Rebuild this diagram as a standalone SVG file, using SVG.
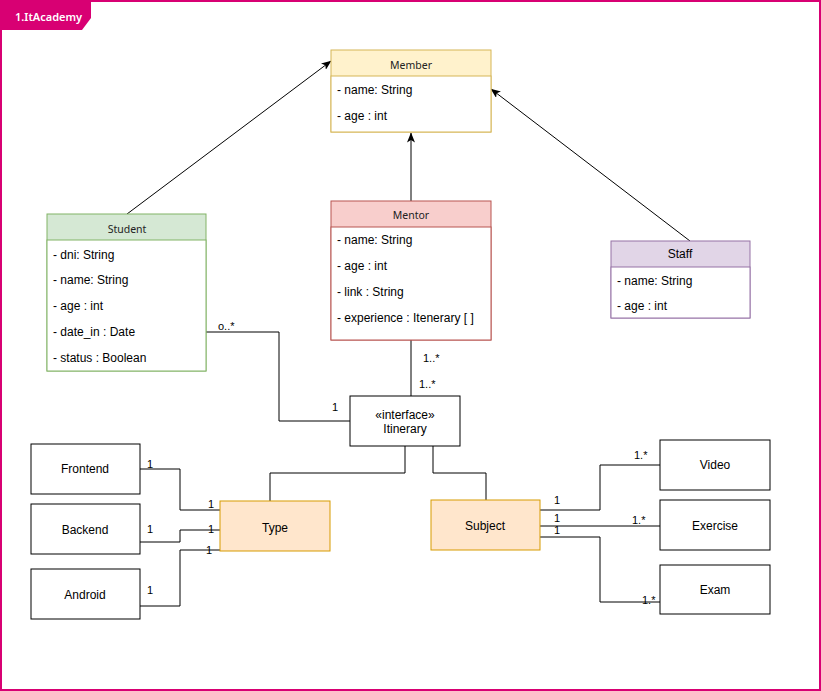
<svg xmlns="http://www.w3.org/2000/svg" width="821" height="691" viewBox="0 0 821 691">
<defs>
<marker id="arr" markerWidth="10" markerHeight="8" refX="9.5" refY="4" orient="auto" markerUnits="userSpaceOnUse">
<path d="M0,0 L10,4 L0,8 L2.5,4 Z" fill="#000"/>
</marker>
</defs>
<style>
.attr{font-family:"Liberation Sans",Arial,sans-serif;font-size:12px;fill:#000}
.hdr{font-family:"Noto Sans","DejaVu Sans",sans-serif;font-size:10.5px;fill:#222;text-anchor:middle}
.lbl{font-family:"Liberation Sans",Arial,sans-serif;font-size:12px;fill:#000;text-anchor:middle}
.ml{font-family:"Liberation Sans",Arial,sans-serif;font-size:11px;fill:#000}
.box{fill:#fff;stroke:#000;stroke-width:1}
.con{fill:none;stroke:#000;stroke-width:1}
</style>
<rect x="0" y="0" width="821" height="691" fill="#fff"/>
<g id="frame">
<rect x="1" y="1" width="819" height="689" fill="none" stroke="#d80073" stroke-width="2"/>
<path d="M0,0 L91,0 L91,18 L82,30 L0,30 Z" fill="#d80073"/>
<text x="15" y="21" font-family="Noto Sans,DejaVu Sans,sans-serif" font-size="11" font-weight="600" fill="#fff">1.ItAcademy</text>
</g>
<g id="connectors">
<path class="con" d="M127,214 L331,61" marker-end="url(#arr)"/>
<path class="con" d="M411,201 L411,133" marker-end="url(#arr)"/>
<path class="con" d="M690,241 L491,89" marker-end="url(#arr)"/>
<path class="con" d="M206,332 L279,332 L279,421 L350,421"/>
<path class="con" d="M411,340 L411,396"/>
<path class="con" d="M405,446 L405,473 L270,473 L270,501"/>
<path class="con" d="M433,446 L433,473 L486,473 L486,500"/>
<path class="con" d="M140,469 L180,469 L180,510 L220,510"/>
<path class="con" d="M140,542 L180,542 L180,530 L220,530"/>
<path class="con" d="M140,606 L180,606 L180,550 L220,550"/>
<path class="con" d="M540,510 L600,510 L600,465 L660,465"/>
<path class="con" d="M540,526 L660,526"/>
<path class="con" d="M540,537 L600,537 L600,602 L660,602"/>
<text class="ml" x="218" y="330">o..*</text>
<text class="ml" x="332" y="411">1</text>
<text class="ml" x="423" y="362">1..*</text>
<text class="ml" x="419" y="388">1..*</text>
<text class="ml" x="147" y="468">1</text>
<text class="ml" x="208" y="508">1</text>
<text class="ml" x="147" y="533">1</text>
<text class="ml" x="208" y="533">1</text>
<text class="ml" x="147" y="594">1</text>
<text class="ml" x="206" y="554">1</text>
<text class="ml" x="554" y="504">1</text>
<text class="ml" x="554" y="522">1</text>
<text class="ml" x="554" y="534">1</text>
<text class="ml" x="634" y="459">1.*</text>
<text class="ml" x="632" y="524">1.*</text>
<text class="ml" x="642" y="604">1.*</text>
</g>
<g id="member">
<rect x="331" y="50" width="160" height="82" fill="#fff2cc" stroke="#d6b656"/>
<rect x="331" y="76" width="160" height="56" fill="#fff" stroke="#d6b656"/>
<text class="hdr" x="411" y="69">Member</text>
<text class="attr" x="337" y="94">- name: String</text>
<text class="attr" x="337" y="120">- age : int</text>
</g>
<g id="student">
<rect x="47" y="214" width="159" height="157" fill="#d5e8d4" stroke="#82b366"/>
<rect x="47" y="240" width="159" height="131" fill="#fff" stroke="#82b366"/>
<text class="hdr" x="127" y="233">Student</text>
<text class="attr" x="53" y="259">- dni: String</text>
<text class="attr" x="53" y="284">- name: String</text>
<text class="attr" x="53" y="310">- age : int</text>
<text class="attr" x="53" y="336">- date_in : Date</text>
<text class="attr" x="53" y="362">- status : Boolean</text>
</g>
<g id="mentor">
<rect x="331" y="201" width="160" height="139" fill="#f8cecc" stroke="#b85450"/>
<rect x="331" y="227" width="160" height="113" fill="#fff" stroke="#b85450"/>
<text class="hdr" x="411" y="219">Mentor</text>
<text class="attr" x="337" y="244">- name: String</text>
<text class="attr" x="337" y="270">- age : int</text>
<text class="attr" x="337" y="296">- link : String</text>
<text class="attr" x="337" y="322">- experience : Itenerary [ ]</text>
</g>
<g id="staff">
<rect x="611" y="241" width="139" height="77" fill="#e1d5e7" stroke="#9673a6"/>
<rect x="611" y="267" width="139" height="51" fill="#fff" stroke="#9673a6"/>
<text class="lbl" x="680" y="258">Staff</text>
<text class="attr" x="617" y="285">- name: String</text>
<text class="attr" x="617" y="310">- age : int</text>
</g>
<g id="itinerary">
<rect class="box" x="350" y="396" width="110" height="50"/>
<text class="lbl" x="405" y="419">«interface»</text>
<text class="lbl" x="405" y="433">Itinerary</text>
</g>
<g id="type">
<rect x="220" y="501" width="110" height="50" fill="#ffe6cc" stroke="#d79b00"/>
<text class="lbl" x="275" y="532">Type</text>
</g>
<g id="subject">
<rect x="431" y="500" width="109" height="50" fill="#ffe6cc" stroke="#d79b00"/>
<text class="lbl" x="485" y="530">Subject</text>
</g>
<g id="frontend">
<rect class="box" x="31" y="444" width="109" height="50"/>
<text class="lbl" x="85" y="473">Frontend</text>
</g>
<g id="backend">
<rect class="box" x="31" y="504" width="109" height="50"/>
<text class="lbl" x="85" y="534">Backend</text>
</g>
<g id="android">
<rect class="box" x="31" y="569" width="109" height="50"/>
<text class="lbl" x="85" y="599">Android</text>
</g>
<g id="video">
<rect class="box" x="660" y="440" width="110" height="50"/>
<text class="lbl" x="715" y="469">Video</text>
</g>
<g id="exercise">
<rect class="box" x="660" y="500" width="110" height="50"/>
<text class="lbl" x="715" y="530">Exercise</text>
</g>
<g id="exam">
<rect class="box" x="660" y="565" width="110" height="49"/>
<text class="lbl" x="715" y="594">Exam</text>
</g>
</svg>
